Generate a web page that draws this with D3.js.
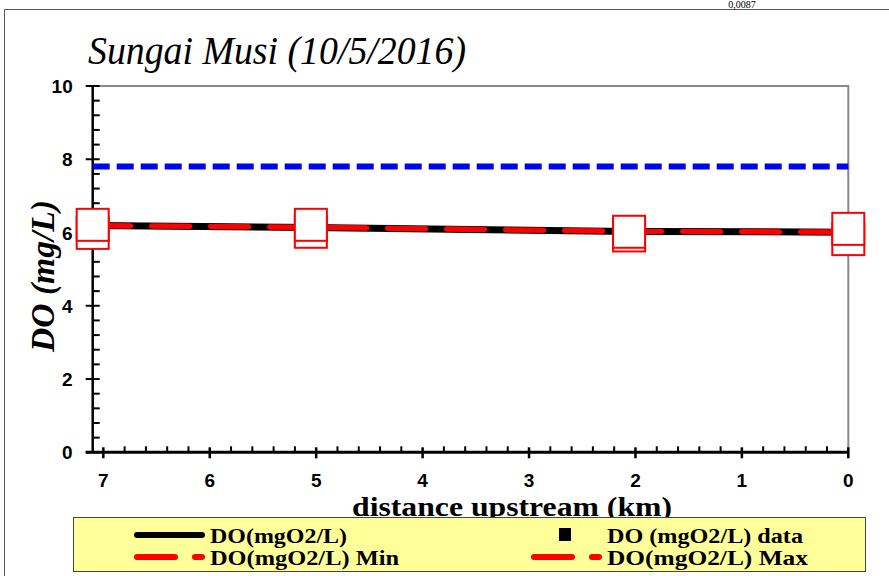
<!DOCTYPE html>
<html>
<head>
<meta charset="utf-8">
<script src="https://cdn.jsdelivr.net/npm/d3@7"></script>
<style>
  body { margin: 0; background: #fff; }
  svg { display: block; }
  .tickLabel { font-family: "Liberation Sans Narrow", "Liberation Sans", Arial, sans-serif; font-weight: bold; font-size: 19px; }
  .serif { font-family: "Liberation Serif", "Times New Roman", Tinos, serif; }
</style>
</head>
<body>
<div id="chart-area"></div>
<script>
// data
var distance = [7.1, 5.05, 2.06, 0];          // km upstream
var doModel = [6.19, 6.14, 6.03, 6.01];       // DO(mgO2/L)
var doMin = [6.19, 6.14, 6.03, 6.01];         // DO(mgO2/L) Min
var doMax = [6.19, 6.14, 6.03, 6.01];         // DO(mgO2/L) Max
var dataMax = [6.21, 6.21, 6.02, 6.10];       // upper data squares
var dataMin = [5.99, 6.02, 5.92, 5.82];       // lower data squares
var doStandard = 7.8;                          // blue dashed line
var xTicks = [7, 6, 5, 4, 3, 2, 1, 0];
var yTicks = [0, 2, 4, 6, 8, 10];

var width = 889, height = 576;
var svg = d3.select("#chart-area").append("svg")
  .attr("width", width)
  .attr("height", height);

// outer frame
svg.append("path")
  .attr("d", "M4.5," + height + "V9.5H" + width)
  .attr("fill", "none")
  .attr("stroke", "#555")
  .attr("stroke-width", 1);

svg.append("text")
  .attr("class", "serif")
  .attr("x", 742).attr("y", 8)
  .attr("text-anchor", "middle")
  .style("font-size", "10px")
  .text("0,0087");

var x = d3.scaleLinear().domain([7.1, 0]).range([92.7, 848.3]);
var y = d3.scaleLinear().domain([0, 10]).range([452.3, 86]);

// plot border (top & right)
svg.append("path")
  .attr("d", `M${x(7.1)},${y(10)}H${x(0)}V${y(0)}`)
  .attr("fill", "none")
  .attr("stroke", "#888")
  .attr("stroke-width", 2);

// title
svg.append("text")
  .attr("class", "serif")
  .attr("x", 88).attr("y", 64)
  .attr("textLength", 378)
  .attr("lengthAdjust", "spacingAndGlyphs")
  .style("font-style", "italic")
  .style("font-size", "41px")
  .text("Sungai Musi (10/5/2016)");

// y axis
var yAxisG = svg.append("g").attr("transform", `translate(${x(7.1)},0)`);
yAxisG.append("line").attr("y1", y(0)).attr("y2", y(10)).attr("stroke", "#000").attr("stroke-width", 2.5);
yAxisG.selectAll("line.minor")
  .data(d3.range(0, 10.01, 0.4).filter(v => yTicks.indexOf(Math.round(v * 10) / 10) < 0))
  .enter().append("line")
  .attr("x1", 0).attr("x2", 7)
  .attr("y1", d => y(d)).attr("y2", d => y(d))
  .attr("stroke", "#000").attr("stroke-width", 2);
yAxisG.selectAll("line.major")
  .data(yTicks).enter().append("line")
  .attr("x1", -7).attr("x2", 7)
  .attr("y1", d => y(d)).attr("y2", d => y(d))
  .attr("stroke", "#000").attr("stroke-width", 2);
yAxisG.selectAll("text")
  .data(yTicks).enter().append("text")
  .attr("class", "tickLabel")
  .attr("x", -20).attr("y", d => y(d) + 7)
  .attr("text-anchor", "end")
  .text(d => d);

// x axis
var xAxisG = svg.append("g").attr("transform", `translate(0,${y(0)})`);
xAxisG.append("line").attr("x1", x(7.1) - 7).attr("x2", x(0)).attr("stroke", "#000").attr("stroke-width", 3);
xAxisG.selectAll("line.minor")
  .data(d3.range(0.2, 7.1, 0.2).filter(v => Math.abs(v - Math.round(v)) > 0.01))
  .enter().append("line")
  .attr("x1", d => x(d)).attr("x2", d => x(d))
  .attr("y1", -6).attr("y2", 0)
  .attr("stroke", "#000").attr("stroke-width", 2);
xAxisG.selectAll("line.major")
  .data(xTicks).enter().append("line")
  .attr("x1", d => x(d)).attr("x2", d => x(d))
  .attr("y1", -5).attr("y2", 6)
  .attr("stroke", "#000").attr("stroke-width", 2.5);
xAxisG.selectAll("text")
  .data(xTicks).enter().append("text")
  .attr("class", "tickLabel")
  .attr("x", d => x(d)).attr("y", 35)
  .attr("text-anchor", "middle")
  .text(d => d);

// axis titles
svg.append("text")
  .attr("class", "serif")
  .attr("x", 352).attr("y", 516)
  .attr("textLength", 320)
  .attr("lengthAdjust", "spacingAndGlyphs")
  .style("font-weight", "bold")
  .style("font-size", "27px")
  .text("distance upstream (km)");

svg.append("text")
  .attr("class", "serif")
  .attr("transform", "translate(54,352) rotate(-90)")
  .attr("textLength", 152)
  .attr("lengthAdjust", "spacingAndGlyphs")
  .style("font-weight", "bold")
  .style("font-style", "italic")
  .style("font-size", "33px")
  .text("DO (mg/L)");

// standard line
svg.append("line")
  .attr("x1", x(7.1)).attr("x2", x(0))
  .attr("y1", y(doStandard)).attr("y2", y(doStandard))
  .attr("stroke", "#0000ff").attr("stroke-width", 6)
  .attr("stroke-dasharray", "17,7");

var line = d3.line().x((d, i) => x(distance[i])).y(d => y(d));

svg.append("path").datum(doModel)
  .attr("d", line).attr("fill", "none")
  .attr("stroke", "#000").attr("stroke-width", 7);
svg.append("path").datum(doMin)
  .attr("d", line).attr("fill", "none")
  .attr("stroke", "#ff0000").attr("stroke-width", 5)
  .attr("stroke-linecap", "round")
  .attr("stroke-dasharray", "38,21");
svg.append("path").datum(doMax)
  .attr("d", line).attr("fill", "none")
  .attr("stroke", "#ff0000").attr("stroke-width", 5)
  .attr("stroke-linecap", "round")
  .attr("stroke-dasharray", "38,21");

// data squares
var sq = 32;
[dataMin, dataMax].forEach(function(vals) {
  svg.selectAll(null)
    .data(vals).enter().append("rect")
    .attr("x", (d, i) => x(distance[i]) - sq / 2)
    .attr("y", d => y(d) - sq / 2)
    .attr("width", sq).attr("height", sq)
    .attr("fill", "#fff")
    .attr("stroke", "#ff0000").attr("stroke-width", 2);
});

// legend
var legend = svg.append("g");
legend.append("rect")
  .attr("x", 73.5).attr("y", 517.5)
  .attr("width", 792).attr("height", 54)
  .attr("fill", "#ffff99")
  .attr("stroke", "#444").attr("stroke-width", 1);

var legendItems = [
  { label: "DO(mgO2/L)", x: 134, y: 535, len: 137, type: "line", color: "#000", dash: null },
  { label: "DO (mgO2/L) data", x: 531, y: 535, len: 196, type: "square", color: "#000" },
  { label: "DO(mgO2/L) Min", x: 134, y: 557, len: 189, type: "line", color: "#ff0000", dash: "38,20" },
  { label: "DO(mgO2/L) Max", x: 531, y: 557, len: 201, type: "line", color: "#ff0000", dash: "38,20" }
];
legendItems.forEach(function(d) {
  if (d.type === "line") {
    legend.append("line")
      .attr("x1", d.x + 3).attr("x2", d.x + 68)
      .attr("y1", d.y).attr("y2", d.y)
      .attr("stroke", d.color).attr("stroke-width", 6)
      .attr("stroke-linecap", "round")
      .attr("stroke-dasharray", d.dash);
  } else {
    legend.append("rect")
      .attr("x", d.x + 28).attr("y", d.y - 7)
      .attr("width", 12).attr("height", 13)
      .attr("fill", d.color);
  }
  legend.append("text")
    .attr("class", "serif")
    .attr("x", d.x + 76).attr("y", d.y + 8)
    .attr("textLength", d.len)
    .attr("lengthAdjust", "spacingAndGlyphs")
    .style("font-weight", "bold")
    .style("font-size", "21px")
    .text(d.label);
});
</script>
</body>
</html>
